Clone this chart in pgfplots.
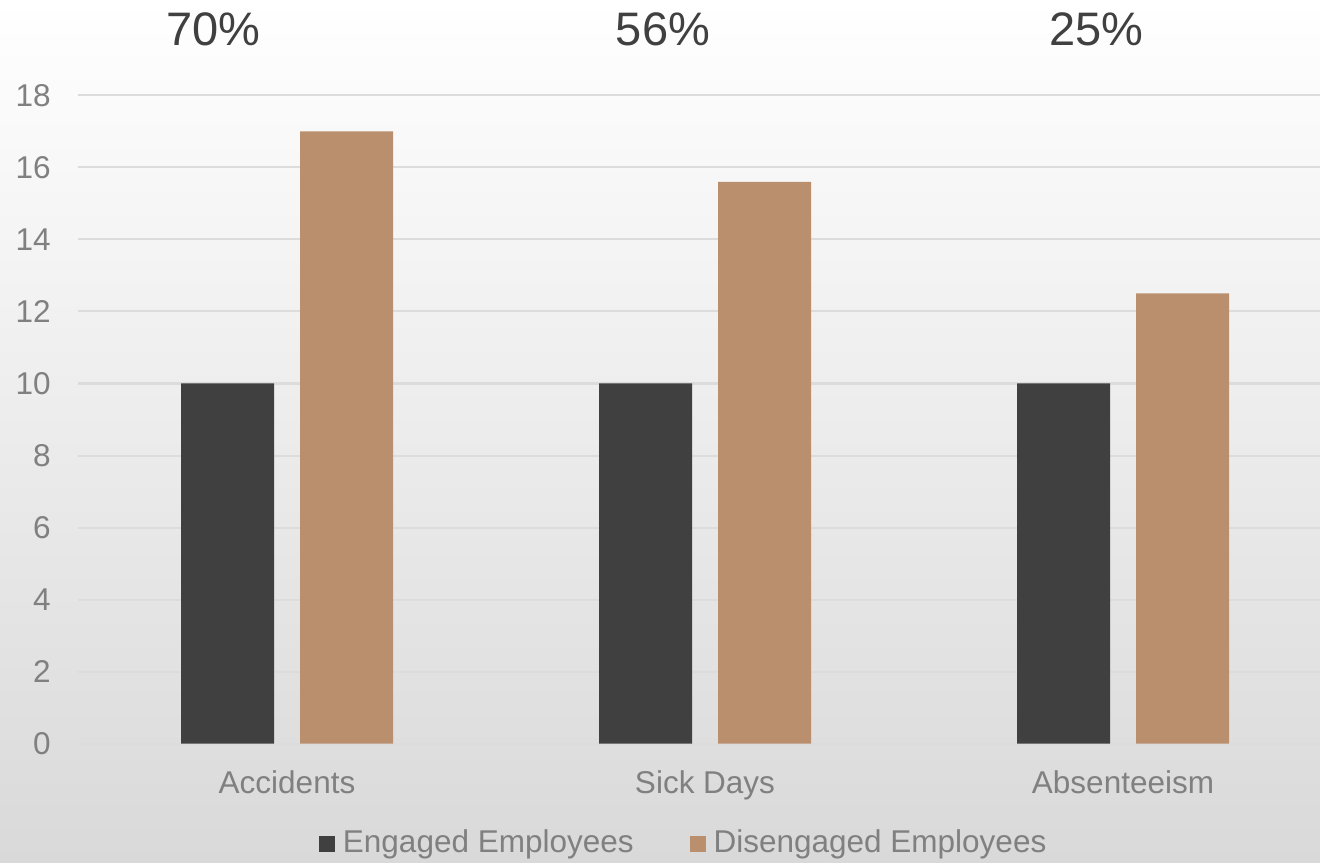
\documentclass[border=0pt]{standalone}
\usepackage{fontspec}
\setmainfont{Liberation Sans}
\usepackage{pgfplots}
\pgfplotsset{compat=1.18}

\definecolor{engaged}{HTML}{404040}
\definecolor{disengaged}{HTML}{B98F6E}
\definecolor{ticktext}{HTML}{808080}
\definecolor{gridgray}{HTML}{DCDCDC}
\definecolor{bgmid}{HTML}{F1F1F1}
\definecolor{bgbottom}{HTML}{D9D9D9}

% small filled square as legend marker
\pgfplotsset{
    squarelegend/.style={
        legend image code/.code={\fill[##1, draw=none] (0pt,-4.5pt) rectangle (8pt,3.5pt); \path (12pt,0pt);}
    },
}

\begin{document}
\begin{tikzpicture}
    % gradient background, fixed page size (1px = 0.5pt)
    \shade[top color=white, middle color=bgmid, bottom color=bgbottom] (0,0) rectangle (660pt,431pt);
    \useasboundingbox (0,0) rectangle (660pt,431pt);

    \begin{axis}[
        at={(39pt,59.25pt)}, anchor=south west,
        scale only axis,
        width=621pt, height=324pt,
        xmin=-0.5, xmax=2.4713,
        ymin=0, ymax=18,
        ybar=13pt, bar width=46.5pt,
        axis line style={draw=none},
        major tick length=0pt,
        xtick={0,1,2},
        xticklabels={Accidents,Sick Days,Absenteeism},
        ytick={0,2,...,18},
        ymajorgrids,
        grid style={gridgray, line width=1pt},
        ticklabel style={font=\fontsize{15.75}{18}\selectfont, text=ticktext},
        yticklabel style={anchor=east, inner sep=0pt, xshift=-13.5pt},
        xticklabel style={anchor=north, inner sep=0pt, yshift=-13.25pt},
        /pgf/number format/assume math mode=true,
        legend columns=2,
        legend style={
            at={(axis description cs:0.194,-0.1730)}, anchor=south west,
            draw=none, fill=none, inner sep=0pt, outer sep=0pt,
            nodes={inner sep=0pt, text=ticktext, font=\fontsize{15.75}{18}\selectfont},
            /tikz/every even column/.append style={column sep=28pt},
        },
    ]

    % Engaged Employees
    \addplot[fill=engaged, draw=none, squarelegend]
        coordinates {(0,10) (1,10) (2,10)};
    \addlegendentry{Engaged Employees}

    % Disengaged Employees
    \addplot[fill=disengaged, draw=none, squarelegend]
        coordinates {(0,17) (1,15.6) (2,12.5)};
    \addlegendentry{Disengaged Employees}

    \end{axis}

    % percentage call-outs above the plot
    \node[anchor=base, text=engaged, font=\fontsize{23.5}{28}\selectfont] at (106.75pt,408pt) {70\%};
    \node[anchor=base, text=engaged, font=\fontsize{23.5}{28}\selectfont] at (331.5pt,408pt) {56\%};
    \node[anchor=base, text=engaged, font=\fontsize{23.5}{28}\selectfont] at (548.25pt,408pt) {25\%};
\end{tikzpicture}
\end{document}
